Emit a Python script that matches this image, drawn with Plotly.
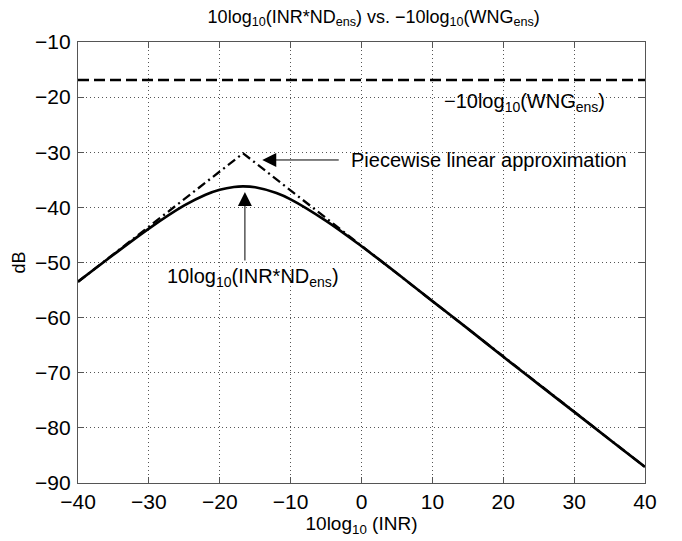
import plotly.graph_objects as go

# Solid curve: 10log10(INR*ND_ens)
inr_db = [-40, -35, -30, -25, -22, -20, -18, -16.7, -15, -12, -10, -5, 0, 5, 10, 15, 20, 25, 30, 35, 40]
nd_db = [-53.5, -48.6, -43.85, -39.65, -37.7, -36.8, -36.3, -36.2, -36.35, -37.4, -38.55, -42.45,
         -47.05, -51.95, -57.0, -62.0, -67.1, -72.1, -77.1, -82.1, -87.1]

# Piecewise linear approximation
pw_x = [-40, -16.7, 40]
pw_y = [-53.5, -30.2, -87.1]

# -10log10(WNG_ens)
wng_x = [-40, 40]
wng_y = [-16.9, -16.9]

x_ticks = [-40, -30, -20, -10, 0, 10, 20, 30, 40]
y_ticks = [-90, -80, -70, -60, -50, -40, -30, -20, -10]

FONT = "Liberation Sans, Arial, Helvetica, sans-serif"

fig = go.Figure()
fig.add_trace(go.Scatter(x=wng_x, y=wng_y, mode="lines",
                         line=dict(color="black", width=2.6, dash="11px,5px"), showlegend=False))
fig.add_trace(go.Scatter(x=pw_x, y=pw_y, mode="lines",
                         line=dict(color="black", width=2.3, dash="9px,4px,2px,4px"), showlegend=False))
fig.add_trace(go.Scatter(x=inr_db, y=nd_db, mode="lines", line_shape="spline",
                         line=dict(color="black", width=2.7), showlegend=False))

axis_common = dict(
    showline=True, linecolor="#555", linewidth=1.2, mirror="ticks",
    ticks="inside", ticklen=6, tickcolor="#555",
    showgrid=True, gridcolor="#555", gridwidth=1, griddash="1px,3px",
    zeroline=False, tickfont=dict(family=FONT, size=21, color="black"),
)

fig.update_xaxes(range=[-40, 40], tickvals=x_ticks, **axis_common,
                 title=dict(text="10log<sub>10</sub> (INR)", font=dict(family=FONT, size=19, color="black"), standoff=2))
fig.update_yaxes(range=[-90, -10], tickvals=y_ticks, **axis_common, ticklabelstandoff=2,
                 title=dict(text="dB", font=dict(family=FONT, size=18, color="black"), standoff=4))

ann_font = dict(family=FONT, size=20, color="black")
fig.add_annotation(x=23.0, y=-21.0, text="−10log<sub>10</sub>(WNG<sub>ens</sub>)", showarrow=False,
                   font=ann_font, xref="x", yref="y")
fig.add_annotation(x=-14.0, y=-31.4, ax=-3.0, ay=-31.4, axref="x", ayref="y", xref="x", yref="y",
                   text="", showarrow=True, arrowhead=2, arrowsize=2.8, arrowwidth=1, arrowcolor="black")
fig.add_annotation(x=-1.8, y=-31.4, xref="x", yref="y", xanchor="left",
                   text="Piecewise linear approximation", showarrow=False, font=ann_font)
fig.add_annotation(x=-16.45, y=-37.2, ax=-16.45, ay=-49.9, axref="x", ayref="y", xref="x", yref="y",
                   text="", showarrow=True, arrowhead=2, arrowsize=2.8, arrowwidth=1, arrowcolor="black")
fig.add_annotation(x=-15.3, y=-52.8, xref="x", yref="y",
                   text="10log<sub>10</sub>(INR*ND<sub>ens</sub>)", showarrow=False, font=ann_font)

fig.update_layout(
    width=682, height=541,
    margin=dict(l=78, r=37, t=42, b=58),
    paper_bgcolor="white", plot_bgcolor="white",
    title=dict(text="10log<sub>10</sub>(INR*ND<sub>ens</sub>) vs. −10log<sub>10</sub>(WNG<sub>ens</sub>)",
               x=0.548, xanchor="center", y=0.97, yanchor="middle",
               font=dict(family=FONT, size=18, color="black")),
)

fig.write_html("out.html")
